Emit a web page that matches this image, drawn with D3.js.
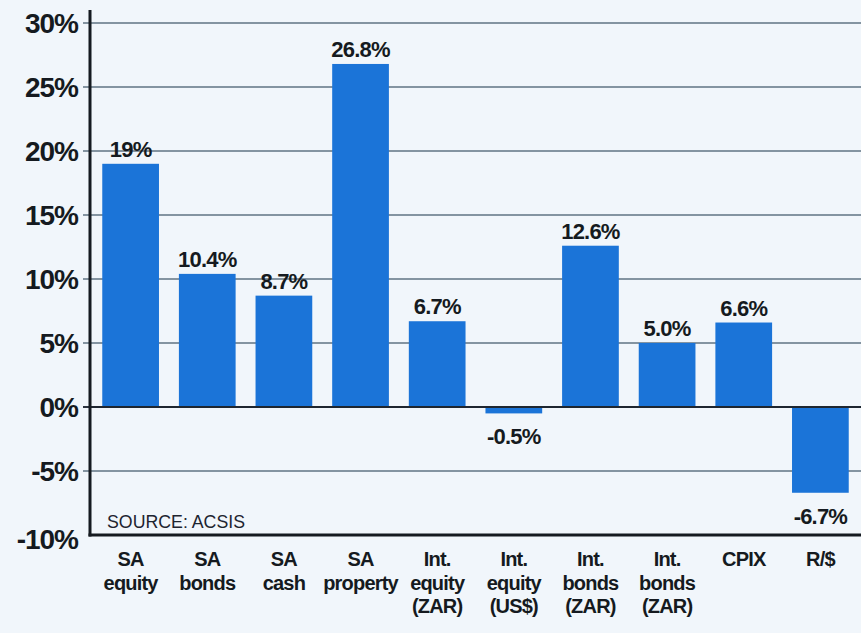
<!DOCTYPE html>
<html>
<head>
<meta charset="utf-8">
<script src="https://cdn.jsdelivr.net/npm/d3@7"></script>
<style>
  body { margin: 0; background: #f1f6fb; }
  svg { display: block; font-family: "Liberation Sans", Arial, sans-serif; }
</style>
</head>
<body>
<svg id="chart" width="861" height="633"></svg>
<script>
const categories = [
  ['SA', 'equity'], ['SA', 'bonds'], ['SA', 'cash'], ['SA', 'property'],
  ['Int.', 'equity', '(ZAR)'], ['Int.', 'equity', '(US$)'],
  ['Int.', 'bonds', '(ZAR)'], ['Int.', 'bonds', '(ZAR)'],
  ['CPIX'], ['R/$']
];
const values = [19, 10.4, 8.7, 26.8, 6.7, -0.5, 12.6, 5.0, 6.6, -6.7];
const valueLabels = ['19%', '10.4%', '8.7%', '26.8%', '6.7%', '-0.5%', '12.6%', '5.0%', '6.6%', '-6.7%'];
const yTicks = [30, 25, 20, 15, 10, 5, 0, -5, -10];

function drawChart() {
  const svg = d3.select('svg#chart');
  const axisX = 90;
  const right = 861;
  const top = 23;
  const bottom = 535;

  svg.append('rect')
    .attr('width', 861).attr('height', 633)
    .attr('fill', '#f1f6fb');

  const x = d3.scaleBand()
    .domain(d3.range(values.length))
    .range([axisX, right])
    .paddingInner(0.26)
    .paddingOuter(0.16);

  const y = d3.scaleLinear()
    .domain([-10, 30])
    .range([bottom, top]);

  // gridlines
  svg.selectAll('line.grid').data(yTicks.filter((d) => d !== -10))
    .enter()
    .append('line')
    .attr('class', 'grid')
    .attr('x1', axisX - 7).attr('x2', right)
    .attr('y1', (d) => y(d)).attr('y2', (d) => y(d))
    .attr('stroke', (d) => d === 0 ? '#2b3440' : '#5f7383')
    .attr('stroke-width', (d) => d === 0 ? 2.2 : 1.6);

  // tick labels
  svg.selectAll('text.ytick').data(yTicks)
    .enter()
    .append('text')
    .attr('class', 'ytick')
    .attr('x', 78)
    .attr('y', (d) => y(d) + (d === -10 ? 14 : 10))
    .attr('text-anchor', 'end')
    .attr('font-size', '28px')
    .attr('font-weight', 'bold')
    .attr('letter-spacing', '-1')
    .attr('fill', '#151a20')
    .text((d) => d + '%');

  // bars
  svg.selectAll('rect.bar').data(values)
    .enter()
    .append('rect')
    .attr('class', 'bar')
    .attr('x', (d, i) => x(i))
    .attr('width', x.bandwidth())
    .attr('y', (d) => y(Math.max(0, d)))
    .attr('height', (d) => Math.abs(y(d) - y(0)))
    .attr('fill', '#1b74d8');

  // redraw zero line over bars
  svg.append('line')
    .attr('x1', axisX).attr('x2', right)
    .attr('y1', y(0)).attr('y2', y(0))
    .attr('stroke', '#1e2630')
    .attr('stroke-width', 2.2);

  // value labels
  svg.selectAll('text.value').data(values)
    .enter()
    .append('text')
    .attr('class', 'value')
    .attr('x', (d, i) => x(i) + x.bandwidth() / 2)
    .attr('y', (d) => d >= 0 ? y(d) - 7 : y(d) + 31)
    .attr('text-anchor', 'middle')
    .attr('font-size', '22px')
    .attr('font-weight', 'bold')
    .attr('letter-spacing', '-0.8')
    .attr('fill', '#151a20')
    .text((d, i) => valueLabels[i]);

  // axes lines
  svg.append('line')
    .attr('x1', axisX).attr('x2', axisX)
    .attr('y1', 10).attr('y2', bottom + 1.5)
    .attr('stroke', '#151a20').attr('stroke-width', 3);
  svg.append('line')
    .attr('x1', axisX - 1.5).attr('x2', right)
    .attr('y1', bottom).attr('y2', bottom)
    .attr('stroke', '#151a20').attr('stroke-width', 3);

  // category labels
  svg.selectAll('text.cat').data(categories)
    .enter()
    .append('text')
    .attr('class', 'cat')
    .attr('text-anchor', 'middle')
    .attr('font-size', '20px')
    .attr('font-weight', 'bold')
    .attr('letter-spacing', '-0.8')
    .attr('fill', '#151a20')
    .each(function(d, i) {
      const cx = x(i) + x.bandwidth() / 2;
      d3.select(this).selectAll('tspan').data(d)
        .enter()
        .append('tspan')
        .attr('x', cx)
        .attr('y', (t, j) => bottom + 31 + j * 23.5)
        .text((t) => t);
    });

  svg.append('text')
    .attr('x', 107)
    .attr('y', 528)
    .attr('font-size', '18px')
    .attr('textLength', 138)
    .attr('lengthAdjust', 'spacingAndGlyphs')
    .attr('fill', '#1d2430')
    .text('SOURCE: ACSIS');
}

drawChart();
</script>
</body>
</html>
